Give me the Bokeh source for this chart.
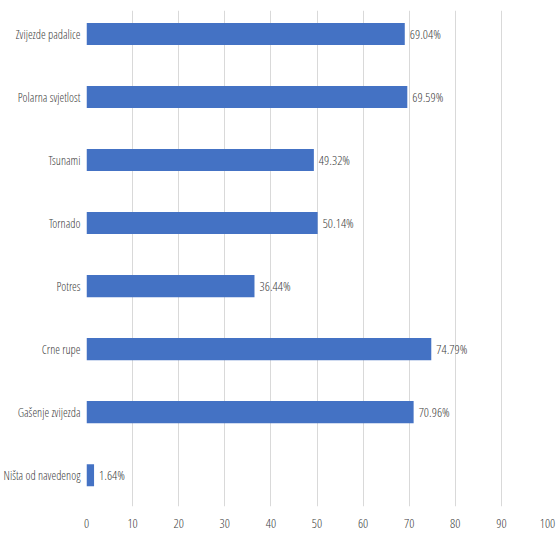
from bokeh.plotting import figure
from bokeh.models import ColumnDataSource, Range1d, FixedTicker, LabelSet
from bokeh.core.properties import value
from bokeh.embed import file_html
from bokeh.resources import INLINE

categories = ["Zvijezde padalice", "Polarna svjetlost", "Tsunami", "Tornado",
              "Potres", "Crne rupe", "Gašenje zvijezda", "Ništa od navedenog"]
values = [69.04, 69.59, 49.32, 50.14, 36.44, 74.79, 70.96, 1.64]
x_ticks = [0, 10, 20, 30, 40, 50, 60, 70, 80, 90, 100]

positions = list(range(len(categories)))
labels = ["%.2f%%" % v for v in values]
source = ColumnDataSource(dict(pos=positions, cat=categories, val=values, lab=labels))

FONT = "Open Sans Condensed Light"
TXT = "#404040"

p = figure(frame_width=461, frame_height=496, output_backend="svg", toolbar_location=None,
           y_range=Range1d(len(categories) - 0.503, -0.373), x_range=Range1d(0, 100),
           min_border_left=80, min_border_right=9, min_border_top=10, min_border_bottom=25)

p.hbar(y="pos", right="val", left=0, height=0.35, source=source,
       color="#4472C4", line_color=None)

lab = LabelSet(x="val", y="pos", text="lab", source=source, x_offset=5,
               text_baseline="middle", text_font=value(FONT), text_font_size=value("13px"),
               text_color=TXT)
p.add_layout(lab)

p.outline_line_color = None
p.ygrid.grid_line_color = None
p.xgrid.grid_line_color = "#d9d9d9"
p.xgrid.ticker = FixedTicker(ticks=x_ticks)
p.xaxis.ticker = FixedTicker(ticks=x_ticks)
p.yaxis.ticker = FixedTicker(ticks=positions)
p.yaxis.major_label_overrides = {i: c for i, c in zip(positions, categories)}

for ax in (p.xaxis, p.yaxis):
    ax.axis_line_color = None
    ax.major_tick_line_color = None
    ax.minor_tick_line_color = None
    ax.major_tick_out = 0
    ax.major_tick_in = 0
    ax.minor_tick_out = 0
    ax.minor_tick_in = 0
    ax.axis_label_standoff = 0
    ax.major_label_text_font = FONT
    ax.major_label_text_color = TXT
p.xaxis.major_label_text_font_size = "13px"
p.yaxis.major_label_text_font_size = "12px"
p.xaxis.major_label_standoff = 12
p.yaxis.major_label_standoff = 6

open("out.html", "w").write(file_html(p, INLINE))
